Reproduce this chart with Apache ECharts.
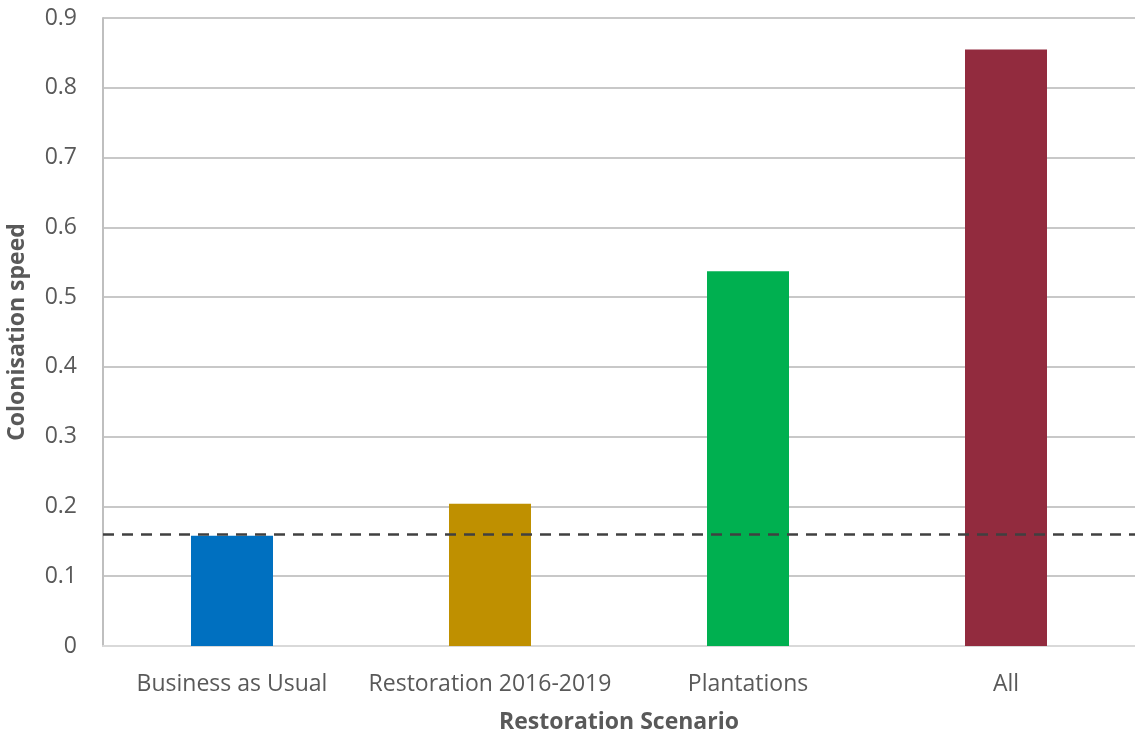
<!DOCTYPE html>
<html>
<head>
<meta charset="utf-8">
<script src="https://cdn.jsdelivr.net/npm/echarts@6/dist/echarts.min.js"></script>
<style>
html,body{margin:0;padding:0;background:#fff;}
#chart{width:1135px;height:736px;}
</style>
</head>
<body>
<div id="chart"></div>
<script>
var categories = ["Business as Usual", "Restoration 2016-2019", "Plantations", "All"];
var speeds = [0.158, 0.204, 0.537, 0.855];
var barColors = ["#0070C0", "#BF9000", "#00B050", "#922B3E"];
var referenceLevel = 0.164;
var yTicks = [0, 0.9, 0.1];

var chart = echarts.init(document.getElementById('chart'), null, {renderer: 'canvas'});
var font = '"Open Sans", sans-serif';
chart.setOption({
  animation: false,
  backgroundColor: '#ffffff',
  grid: {left: 103, right: 0, top: 18, bottom: 90, containLabel: false, outerBoundsMode: 'none'},
  xAxis: {
    type: 'category',
    data: categories,
    name: 'Restoration Scenario',
    nameLocation: 'middle',
    nameGap: 65,
    nameTextStyle: {fontFamily: font, fontSize: 23, fontWeight: 'bold', color: '#595959'},
    axisLine: {show: true, lineStyle: {color: '#d9d9d9', width: 2}},
    axisTick: {show: false},
    axisLabel: {fontFamily: font, fontSize: 23, color: '#595959', margin: 27, interval: 0}
  },
  yAxis: {
    type: 'value',
    min: yTicks[0], max: yTicks[1], interval: yTicks[2],
    name: 'Colonisation speed',
    nameLocation: 'middle',
    nameGap: 74,
    nameTextStyle: {fontFamily: font, fontSize: 23, fontWeight: 'bold', color: '#595959'},
    axisLine: {show: true, lineStyle: {color: '#bfbfbf', width: 2}},
    axisTick: {show: false},
    axisLabel: {fontFamily: font, fontSize: 23, color: '#595959', margin: 26,
      formatter: function(v){ return v === 0 ? '0' : (Math.round(v*10)/10).toString(); }},
    splitLine: {show: true, lineStyle: {color: '#c8c8c8', width: 2}}
  },
  series: [{
    type: 'bar',
    data: speeds.map(function(v, i){ return {value: v, itemStyle: {color: barColors[i]}}; }),
    barWidth: 82,
    markLine: {
      symbol: 'none',
      silent: true,
      label: {show: false},
      lineStyle: {color: '#404040', type: [11, 8], width: 2.5},
      data: [{yAxis: referenceLevel}]
    }
  }]
});
</script>
</body>
</html>
